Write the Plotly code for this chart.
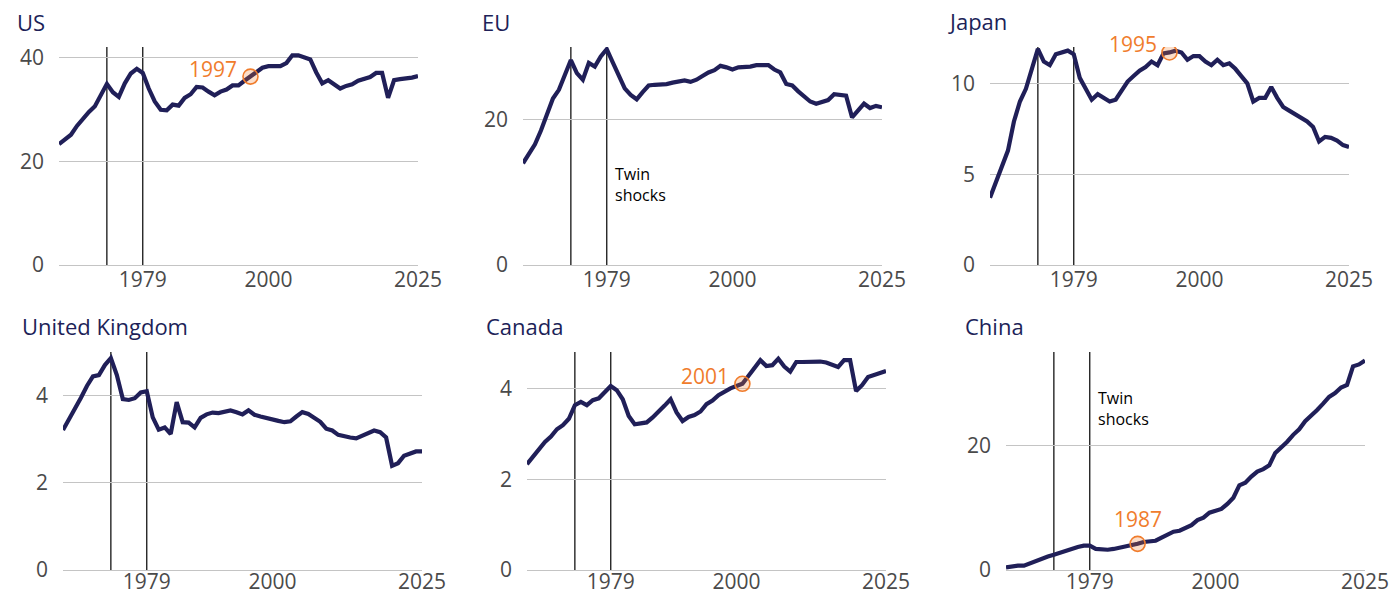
import plotly.graph_objects as go
from plotly.subplots import make_subplots

years = list(range(1965, 2026))

us = [23.3, 24.2, 25.1, 26.8, 28.2, 29.5, 30.6, 32.8, 34.9, 33.3,
      32.4, 35.0, 36.9, 37.8, 37.0, 34.0, 31.5, 29.9, 29.8, 30.9,
      30.7, 32.2, 32.9, 34.3, 34.2, 33.4, 32.7, 33.4, 33.8, 34.6,
      34.6, 35.5, 36.3, 37.2, 38.0, 38.3, 38.3, 38.3, 38.9, 40.4,
      40.4, 40.0, 39.6, 37.1, 35.0, 35.6, 34.8, 34.0, 34.5, 34.8,
      35.5, 35.8, 36.2, 37.0, 37.0, 32.2, 35.6, 35.8, 35.9, 36.1, 36.4]

eu = [14.0, 15.3, 16.6, 18.5, 20.8, 22.9, 24.1, 26.0, 28.2, 26.4,
      25.5, 27.8, 27.3, 28.7, 29.7, 27.9, 26.0, 24.3, 23.4, 22.8,
      23.8, 24.7, 24.8, 24.8, 24.9, 25.1, 25.3, 25.4, 25.2, 25.5,
      26.0, 26.5, 26.8, 27.4, 27.2, 26.9, 27.2, 27.2, 27.3, 27.5,
      27.5, 27.5, 26.9, 26.5, 24.9, 24.7, 23.9, 23.1, 22.5, 22.2,
      22.4, 22.7, 23.5, 23.4, 23.3, 20.3, 21.3, 22.2, 21.6, 21.9, 21.7]

japan = [3.7, 4.6, 5.4, 6.3, 7.9, 9.0, 9.7, 10.8, 11.9, 11.2,
         11.0, 11.6, 11.7, 11.8, 11.6, 10.3, 9.7, 9.1, 9.4, 9.2,
         9.0, 9.1, 9.6, 10.1, 10.4, 10.7, 10.9, 11.2, 11.0, 11.65,
         11.7, 11.8, 11.7, 11.3, 11.5, 11.5, 11.2, 11.0, 11.3, 11.0,
         11.1, 10.8, 10.4, 10.0, 9.0, 9.2, 9.2, 9.8, 9.2, 8.7,
         8.5, 8.3, 8.1, 7.9, 7.6, 6.8, 7.05, 7.0, 6.85, 6.6, 6.5]

uk = [3.21, 3.45, 3.70, 3.95, 4.22, 4.44, 4.47, 4.70, 4.86, 4.47,
      3.92, 3.90, 3.94, 4.07, 4.10, 3.50, 3.22, 3.27, 3.12, 3.85,
      3.39, 3.38, 3.27, 3.49, 3.57, 3.61, 3.60, 3.64, 3.66, 3.62,
      3.57, 3.66, 3.56, 3.52, 3.48, 3.44, 3.42, 3.39, 3.41, 3.52,
      3.62, 3.58, 3.48, 3.40, 3.24, 3.20, 3.10, 3.06, 3.04, 3.02,
      3.08, 3.15, 3.20, 3.16, 3.04, 2.39, 2.45, 2.62, 2.68, 2.72, 2.72]

canada = [2.33, 2.49, 2.68, 2.82, 2.94, 3.10, 3.19, 3.33, 3.63, 3.70,
          3.63, 3.74, 3.78, 3.92, 4.05, 3.96, 3.76, 3.39, 3.21, 3.23,
          3.25, 3.36, 3.48, 3.62, 3.76, 3.47, 3.28, 3.37, 3.41, 3.49,
          3.65, 3.73, 3.85, 3.93, 4.00, 4.05, 4.10, 4.27, 4.43, 4.62,
          4.49, 4.51, 4.65, 4.48, 4.37, 4.58, 4.58, 4.59, 4.60, 4.59,
          4.57, 4.51, 4.47, 4.62, 4.62, 3.94, 4.07, 4.25, 4.29, 4.33, 4.38]

china = [0.43, 0.6, 0.69, 0.7, 1.1, 1.45, 1.8, 2.15, 2.45, 2.8,
         3.1, 3.45, 3.7, 3.9, 3.9, 3.4, 3.28, 3.25, 3.38, 3.55,
         3.73, 3.95, 4.2, 4.5, 4.65, 4.7, 5.2, 5.7, 6.15, 6.3,
         6.75, 7.2, 8.0, 8.4, 9.2, 9.5, 9.8, 10.6, 11.6, 13.6,
         14.0, 15.0, 15.8, 16.2, 16.8, 18.8, 19.6, 20.6, 21.7, 22.6,
         23.9, 24.7, 25.7, 26.7, 27.8, 28.4, 29.3, 29.7, 32.7, 33.0, 33.65]

panel_names = ["US", "EU", "Japan", "United Kingdom", "Canada", "China"]
panel_series = [us, eu, japan, uk, canada, china]
panel_ticks = [[0, 20, 40], [0, 20], [0, 5, 10], [0, 2, 4], [0, 2, 4], [0, 20]]
panel_ymax = [42, 30, 12, 5, 4.8, 35]
peak_years = [1997, None, 1995, None, 2001, 1987]
shock_years = [1973, 1979]
x_ticks = [1979, 2000, 2025]

NAVY = "#201f58"
ORANGE = "#f07c2c"
GRID = "#c4c4c4"
TICK = "#4a4a4a"
FONT = "Open Sans"

W, H = 1392, 594
# panel plot areas in pixels (left, right, top, bottom)
boxes = [(59, 418, 47, 265), (523, 882, 47, 265), (990, 1349, 47, 265),
         (63, 422, 352, 570), (527, 886, 352, 570), (1006, 1365, 352, 570)]
title_pos = [(15, 22), (480, 22), (946, 21), (20, 326), (484, 326), (963, 326)]

fig = make_subplots(rows=2, cols=3)

for i in range(6):
    r, c = i // 3 + 1, i % 3 + 1
    vals = panel_series[i]
    fig.add_trace(go.Scatter(x=years, y=vals, mode="lines",
                             line=dict(color=NAVY, width=4.2),
                             showlegend=False, hoverinfo="x+y"), row=r, col=c)
    for sy in shock_years:
        fig.add_shape(type="line", x0=sy, x1=sy, y0=0, y1=1,
                      xref=f"x{i+1 if i else ''}", yref=f"y{i+1 if i else ''} domain",
                      line=dict(color="black", width=1.2), layer="below")
    py = peak_years[i]
    if py is not None:
        pv = vals[years.index(py)]
        fig.add_trace(go.Scatter(x=[py], y=[pv], mode="markers",
                                 marker=dict(size=15, color="rgba(240,124,44,0.25)",
                                             line=dict(color=ORANGE, width=1.6)),
                                 showlegend=False), row=r, col=c)
        if panel_names[i] == "China":
            fig.add_annotation(x=py, y=pv, text=str(py), showarrow=False,
                               xanchor="center", yanchor="bottom", yshift=9,
                               font=dict(family=FONT, size=21, color=ORANGE),
                               row=r, col=c)
        else:
            fig.add_annotation(x=py, y=pv, text=str(py), showarrow=False,
                               xanchor="right", yanchor="middle", xshift=-11, yshift=8,
                               font=dict(family=FONT, size=21, color=ORANGE),
                               row=r, col=c)

    l, rr, t, b = boxes[i]
    xa = "xaxis" if i == 0 else f"xaxis{i+1}"
    ya = "yaxis" if i == 0 else f"yaxis{i+1}"
    # bottom row labels pulled up a little so they stay inside the page
    fig.layout[xa].update(domain=[l / W, rr / W], range=[1965, 2025],
                          tickvals=x_ticks, showgrid=False, zeroline=False,
                          showline=True, linecolor=GRID, linewidth=1.3, ticks="",
                          ticklabelstandoff=-4 if r == 1 else -7, automargin=False,
                          tickfont=dict(family=FONT, size=21, color=TICK))
    fig.layout[ya].update(domain=[1 - b / H, 1 - t / H], range=[0, panel_ymax[i]],
                          tickvals=panel_ticks[i], showgrid=True, gridcolor=GRID,
                          gridwidth=1.3, zeroline=False, showline=False, ticks="",
                          ticklabelstandoff=14, automargin=False,
                          tickfont=dict(family=FONT, size=21, color=TICK))

    tx, ty = title_pos[i]
    fig.add_annotation(x=tx / W, y=1 - ty / H, xref="paper", yref="paper",
                       text=panel_names[i], showarrow=False,
                       xanchor="left", yanchor="middle",
                       font=dict(family=FONT, size=22, color=NAVY))

# "Twin shocks" labels
fig.add_annotation(x=1979, y=11.1, xref="x2", yref="y2", text="Twin<br>shocks",
                   showarrow=False, xanchor="left", yanchor="middle", xshift=6,
                   align="left", font=dict(family=FONT, size=16, color="black"))
fig.add_annotation(x=1979, y=26.0, xref="x6", yref="y6", text="Twin<br>shocks",
                   showarrow=False, xanchor="left", yanchor="middle", xshift=6,
                   align="left", font=dict(family=FONT, size=16, color="black"))

fig.update_layout(width=W, height=H, margin=dict(l=0, r=0, t=0, b=0),
                  paper_bgcolor="white", plot_bgcolor="white",
                  font=dict(family=FONT), hovermode="closest")

# the page body has a default 8px margin; drop it so the figure fills the window
fig.write_html("out.html", config={"displayModeBar": False},
               post_script="document.body.style.margin='0';document.body.style.overflow='hidden';")
